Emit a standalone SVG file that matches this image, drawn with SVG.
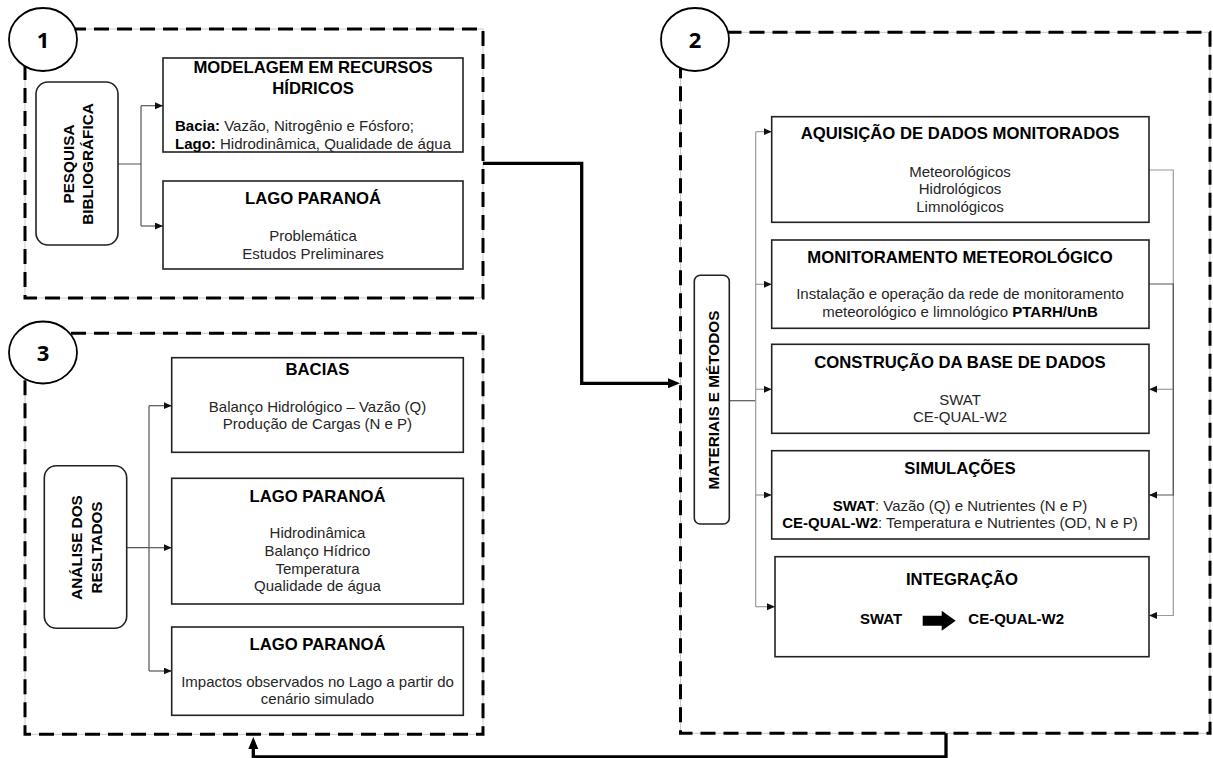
<svg xmlns="http://www.w3.org/2000/svg" width="1213" height="758" viewBox="0 0 1213 758">
  <defs>
    <marker id="tip" markerUnits="userSpaceOnUse" markerWidth="9" markerHeight="8" refX="8" refY="3.5" orient="auto">
      <path d="M0,0 L8,3.5 L0,7 z" fill="#111"/>
    </marker>
    <marker id="tipBig" markerUnits="userSpaceOnUse" markerWidth="14" markerHeight="12" refX="6" refY="5" orient="auto">
      <path d="M0,0 L12,5 L0,10 z" fill="#000"/>
    </marker>
    <style>
      .panel-line { fill: none; stroke: #c8c8c8; stroke-width: 1; }
      .panel { fill: none; stroke: #000; stroke-width: 3; stroke-dasharray: 15 8; }
      .box { fill: #fff; stroke: #222; stroke-width: 1.6; }
      .pill { fill: #fff; stroke: #222; stroke-width: 1.6; }
      .badge { fill: #fff; stroke: #000; stroke-width: 1.8; }
      .t { font-family: "Liberation Sans", Arial, sans-serif; fill: #111; }
      .h { font-size: 16.7px; font-weight: bold; text-anchor: middle; fill: #000; }
      .b { font-size: 15px; text-anchor: middle; fill: #262626; }
      .l { font-size: 15px; text-anchor: start; fill: #262626; }
      .bold { font-weight: bold; fill: #000; }
      .v { font-size: 15.3px; font-weight: bold; text-anchor: middle; fill: #000; }
      .num { font-family: "Open Sans", "Liberation Sans", sans-serif; font-weight: bold; font-size: 22px; text-anchor: middle; fill: #000; }
      .wire { fill: none; stroke: #555; stroke-width: 1.2; }
      .wire-light { fill: none; stroke: #9a9a9a; stroke-width: 1.2; }
      .thick { fill: none; stroke: #000; stroke-width: 3.3; }
    </style>
  </defs>

  <rect width="1213" height="758" fill="#fff"/>

  <!-- dashed stage frames -->
  <g id="frames">
    <rect class="panel-line" x="25" y="29" width="458" height="269"/>
    <rect class="panel" x="25" y="29" width="458" height="269"/>
    <rect class="panel-line" x="25" y="333.3" width="458" height="401"/>
    <rect class="panel" x="25" y="333.3" width="458" height="401"/>
    <rect class="panel-line" x="680.5" y="32.3" width="529.5" height="701"/>
    <rect class="panel" x="680.5" y="32.3" width="529.5" height="701"/>
  </g>

  <!-- connectors -->
  <g id="connectors">
    <!-- stage 1 -->
    <path class="wire" d="M118,164 H141 M141,105.7 V226"/>
    <path class="wire" d="M141,105.7 H163" marker-end="url(#tip)"/>
    <path class="wire" d="M141,226 H163" marker-end="url(#tip)"/>
    <!-- stage 3 -->
    <path class="wire" d="M126.7,547.7 H149 M149,405.7 V671"/>
    <path class="wire" d="M149,405.7 H171.7" marker-end="url(#tip)"/>
    <path class="wire" d="M149,547.7 H171.7" marker-end="url(#tip)"/>
    <path class="wire" d="M149,671 H171.7" marker-end="url(#tip)"/>
    <!-- stage 2, left bus -->
    <path class="wire" d="M729.3,400.7 H755.7"/>
    <path class="wire-light" d="M755.7,131.7 V606.7"/>
    <path class="wire-light" d="M755.7,131.7 H771.7" marker-end="url(#tip)"/>
    <path class="wire-light" d="M755.7,284.3 H771.7" marker-end="url(#tip)"/>
    <path class="wire-light" d="M755.7,389.3 H771.7" marker-end="url(#tip)"/>
    <path class="wire-light" d="M755.7,495 H771.7" marker-end="url(#tip)"/>
    <path class="wire-light" d="M755.7,606.7 H775" marker-end="url(#tip)"/>
    <!-- stage 2, right feedback bus -->
    <path class="wire-light" d="M1149,170 H1173.3 V615.5 H1149" marker-end="url(#tip)"/>
    <path class="wire-light" d="M1173.3,389.3 H1149" marker-end="url(#tip)"/>
    <path class="wire" d="M1149,284 H1173.3 V495 H1149" marker-end="url(#tip)"/>
    <!-- stage links -->
    <path class="thick" d="M483,163.3 H581.7 V383.3 H674" marker-end="url(#tipBig)"/>
    <path class="thick" d="M946,733.3 V757 H253.3 V743" marker-end="url(#tipBig)"/>
  </g>

  <!-- stage badges -->
  <g id="badge-1">
    <ellipse class="badge" cx="43" cy="39.5" rx="34" ry="31.5"/>
    <text class="num" x="43" y="47.5">1</text>
  </g>
  <g id="badge-2">
    <ellipse class="badge" cx="695" cy="39.5" rx="34" ry="31.5"/>
    <text class="num" x="695" y="47.5">2</text>
  </g>
  <g id="badge-3">
    <ellipse class="badge" cx="43" cy="352.5" rx="34" ry="31"/>
    <text class="num" x="43" y="360.5">3</text>
  </g>

  <!-- stage 1 -->
  <g id="pesquisa">
    <rect class="pill" x="36" y="82" width="82" height="163" rx="12"/>
    <text class="t v" transform="translate(74,164) rotate(-90)">PESQUISA</text>
    <text class="t v" transform="translate(93.3,164) rotate(-90)">BIBLIOGRÁFICA</text>
  </g>
  <g id="modelagem">
    <rect class="box" x="163" y="58" width="300" height="94"/>
    <text class="t h" x="313" y="73.3">MODELAGEM EM RECURSOS</text>
    <text class="t h" x="313" y="94.3">HÍDRICOS</text>
    <text class="t l" x="175" y="130.7"><tspan class="bold">Bacia:</tspan> Vazão, Nitrogênio e Fósforo;</text>
    <text class="t l" x="175" y="148.7"><tspan class="bold">Lago:</tspan> Hidrodinâmica, Qualidade de água</text>
  </g>
  <g id="lago-1">
    <rect class="box" x="163" y="181" width="300" height="88"/>
    <text class="t h" x="313" y="204">LAGO PARANOÁ</text>
    <text class="t b" x="313" y="240.7">Problemática</text>
    <text class="t b" x="313" y="258.7">Estudos Preliminares</text>
  </g>

  <!-- stage 3 -->
  <g id="analise">
    <rect class="pill" x="44.3" y="465.7" width="82.4" height="162.6" rx="12"/>
    <text class="t v" transform="translate(81.7,547.5) rotate(-90)">ANÁLISE DOS</text>
    <text class="t v" transform="translate(101.7,547.5) rotate(-90)">RESLTADOS</text>
  </g>
  <g id="bacias">
    <rect class="box" x="171.7" y="357.7" width="291.6" height="94.6"/>
    <text class="t h" x="317.5" y="375">BACIAS</text>
    <text class="t b" x="317.5" y="411.7">Balanço Hidrológico – Vazão (Q)</text>
    <text class="t b" x="317.5" y="429.3">Produção de Cargas (N e P)</text>
  </g>
  <g id="lago-2">
    <rect class="box" x="171.7" y="478.3" width="291.6" height="125.7"/>
    <text class="t h" x="317.5" y="502.3">LAGO PARANOÁ</text>
    <text class="t b" x="317.5" y="538.3">Hidrodinâmica</text>
    <text class="t b" x="317.5" y="556">Balanço Hídrico</text>
    <text class="t b" x="317.5" y="573.7">Temperatura</text>
    <text class="t b" x="317.5" y="591.3">Qualidade de água</text>
  </g>
  <g id="lago-3">
    <rect class="box" x="171.7" y="627" width="291.6" height="88.3"/>
    <text class="t h" x="317.5" y="650">LAGO PARANOÁ</text>
    <text class="t b" x="317.5" y="686.7">Impactos observados no Lago a partir do</text>
    <text class="t b" x="317.5" y="704">cenário simulado</text>
  </g>

  <!-- stage 2 -->
  <g id="materiais">
    <rect class="pill" x="694.3" y="275.3" width="35" height="248.7" rx="6"/>
    <text class="t v" transform="translate(718.7,400) rotate(-90)">MATERIAIS E MÉTODOS</text>
  </g>
  <g id="aquisicao">
    <rect class="box" x="771.7" y="116.7" width="377.3" height="105.6"/>
    <text class="t h" x="960" y="139.3">AQUISIÇÃO DE DADOS MONITORADOS</text>
    <text class="t b" x="960" y="176.7">Meteorológicos</text>
    <text class="t b" x="960" y="194.3">Hidrológicos</text>
    <text class="t b" x="960" y="211.7">Limnológicos</text>
  </g>
  <g id="monitoramento">
    <rect class="box" x="771.7" y="240" width="377.3" height="88.3"/>
    <text class="t h" x="960" y="263.3">MONITORAMENTO METEOROLÓGICO</text>
    <text class="t b" x="960" y="299.3">Instalação e operação da rede de monitoramento</text>
    <text class="t b" x="960" y="316.8">meteorológico e limnológico <tspan class="bold">PTARH/UnB</tspan></text>
  </g>
  <g id="construcao">
    <rect class="box" x="771.7" y="344.3" width="377.3" height="89"/>
    <text class="t h" x="960" y="368.3">CONSTRUÇÃO DA BASE DE DADOS</text>
    <text class="t b" x="960" y="405">SWAT</text>
    <text class="t b" x="960" y="422.3">CE-QUAL-W2</text>
  </g>
  <g id="simulacoes">
    <rect class="box" x="771.7" y="450.7" width="377.3" height="88.3"/>
    <text class="t h" x="960" y="474">SIMULAÇÕES</text>
    <text class="t b" x="960" y="510.7"><tspan class="bold">SWAT</tspan>: Vazão (Q) e Nutrientes (N e P)</text>
    <text class="t b" x="960" y="528.3"><tspan class="bold">CE-QUAL-W2</tspan>: Temperatura e Nutrientes (OD, N e P)</text>
  </g>
  <g id="integracao">
    <rect class="box" x="775" y="556.7" width="374" height="100"/>
    <text class="t h" x="962" y="585">INTEGRAÇÃO</text>
    <text class="t l bold" x="860" y="624">SWAT</text>
    <polygon points="922.7,615.7 941.7,615.7 941.7,610.7 955.7,620.7 941.7,630.7 941.7,625.7 922.7,625.7" fill="#000"/>
    <text class="t l bold" x="968.3" y="624">CE-QUAL-W2</text>
  </g>
</svg>
